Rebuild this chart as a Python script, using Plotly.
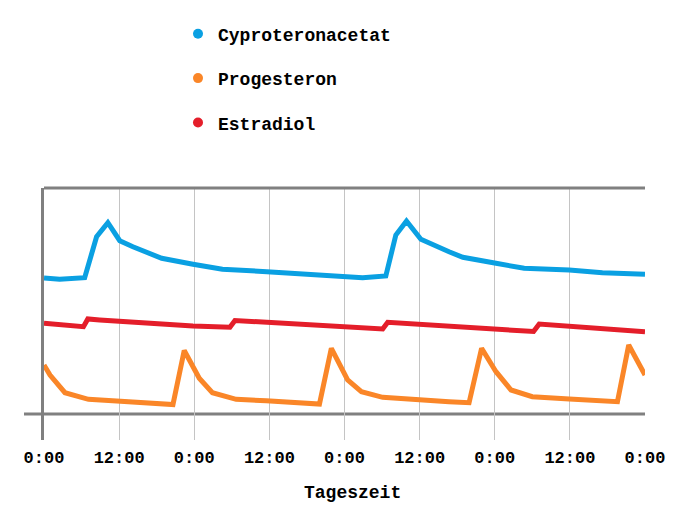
import plotly.graph_objects as go

# ---- data (hours since start, arbitrary concentration units) ----
cpa_hours = [0, 2.5, 6.5, 8.4, 10.2, 12.1, 14.2, 18.8, 23.8, 28.5, 35.6, 41.3, 47.2,
             50.9, 54.6, 56.2, 57.9, 60.2, 64.7, 66.9, 72.2, 76.7, 83.9, 89.2, 96]
cpa_values = [13.6, 13.47, 13.63, 17.73, 19.13, 17.33, 16.73, 15.57, 14.97, 14.47, 14.23,
              14.0, 13.8, 13.63, 13.8, 17.9, 19.3, 17.47, 16.23, 15.67, 15.07, 14.57,
              14.4, 14.13, 13.97]

prog_hours = [0, 0.96, 3.35, 7.1, 11.6, 20.6, 22.4, 24.8, 26.9, 30.7, 35.5, 44.0, 45.9,
              48.5, 50.7, 54.1, 64.7, 67.9, 69.9, 72.2, 74.6, 78.0, 83.9, 91.6, 93.4, 96]
prog_values = [4.9, 3.9, 2.13, 1.47, 1.3, 0.95, 6.35, 3.57, 2.13, 1.47, 1.33, 1.0, 6.57,
               3.4, 2.23, 1.67, 1.23, 1.13, 6.57, 4.23, 2.4, 1.73, 1.5, 1.23, 6.9, 3.9]

e2_hours = [0, 6.3, 7.0, 8.9, 23.8, 29.7, 30.5, 48.8, 54.1, 54.9, 64.7, 78.2, 79.1, 96]
e2_values = [9.07, 8.73, 9.5, 9.4, 8.8, 8.67, 9.35, 8.73, 8.5, 9.17, 8.8, 8.25, 9.0, 8.23]

tick_hours = [0, 12, 24, 36, 48, 60, 72, 84, 96]
tick_labels = ["0:00", "12:00", "0:00", "12:00", "0:00", "12:00", "0:00", "12:00", "0:00"]

series_names = ["Cyproteronacetat", "Progesteron", "Estradiol"]
series_colors = ["#0aa0e2", "#fa8628", "#e41e2a"]

FONT = "Liberation Mono, Courier New, monospace"
GRAY = "#808080"

# layout geometry (figure pixels)
L, R, T, B = 36, 46, 180, 96
PW, PH = 683 - L - R, 528 - T - B

fig = go.Figure()
xs = [cpa_hours, prog_hours, e2_hours]
ys = [cpa_values, prog_values, e2_values]
for name, color, x, y in zip(series_names, series_colors, xs, ys):
    fig.add_trace(go.Scatter(x=x, y=y, mode="lines", name=name, showlegend=False,
                             line=dict(color=color, width=5)))
# legend entries (dot symbols)
for i, (name, color) in enumerate(zip(series_names, series_colors)):
    fig.add_trace(go.Scatter(x=[None], y=[None], mode="markers", name=name,
                             legendgroup=f"g{i}",
                             marker=dict(color=color, size=10, symbol="circle")))

fig.update_layout(
    width=683, height=528,
    margin=dict(l=L, r=R, t=T, b=B, autoexpand=False),
    paper_bgcolor="white", plot_bgcolor="white",
    font=dict(family=FONT, size=17, color="black", weight="bold"),
    legend=dict(x=(170 - L) / PW, y=(T + PH - 7.5) / PH,
                xanchor="left", yanchor="top", tracegroupgap=18,
                font=dict(family=FONT, size=18, color="black", weight="bold"),
                bgcolor="rgba(0,0,0,0)"),
    xaxis=dict(range=[0, 96], tickmode="array", tickvals=tick_hours, ticktext=tick_labels,
               showgrid=True, gridcolor="#c4c4c4", gridwidth=1, ticks="", tickangle=0,
               showline=False, zeroline=False, ticklabelstandoff=5,
               tickfont=dict(family=FONT, size=17, color="black", weight="bold")),
    yaxis=dict(range=[-2.6, 22.6], showticklabels=False, showgrid=False, ticks="",
               zeroline=False, showline=True, linecolor=GRAY, linewidth=3),
    shapes=[
        dict(type="line", xref="paper", yref="paper", x0=0, x1=1, y0=1, y1=1,
             line=dict(color=GRAY, width=3)),
        dict(type="line", xref="paper", yref="y", x0=-20 / PW, x1=1, y0=0, y1=0,
             line=dict(color=GRAY, width=3), layer="below"),
    ],
    annotations=[
        dict(text="Tageszeit", xref="paper", yref="paper", x=(344 - L) / PW,
             y=-(485 - (T + PH)) / PH,
             xanchor="center", yanchor="middle", showarrow=False,
             font=dict(family=FONT, size=18, color="black", weight="bold")),
    ],
)

fig.write_html("out.html")
